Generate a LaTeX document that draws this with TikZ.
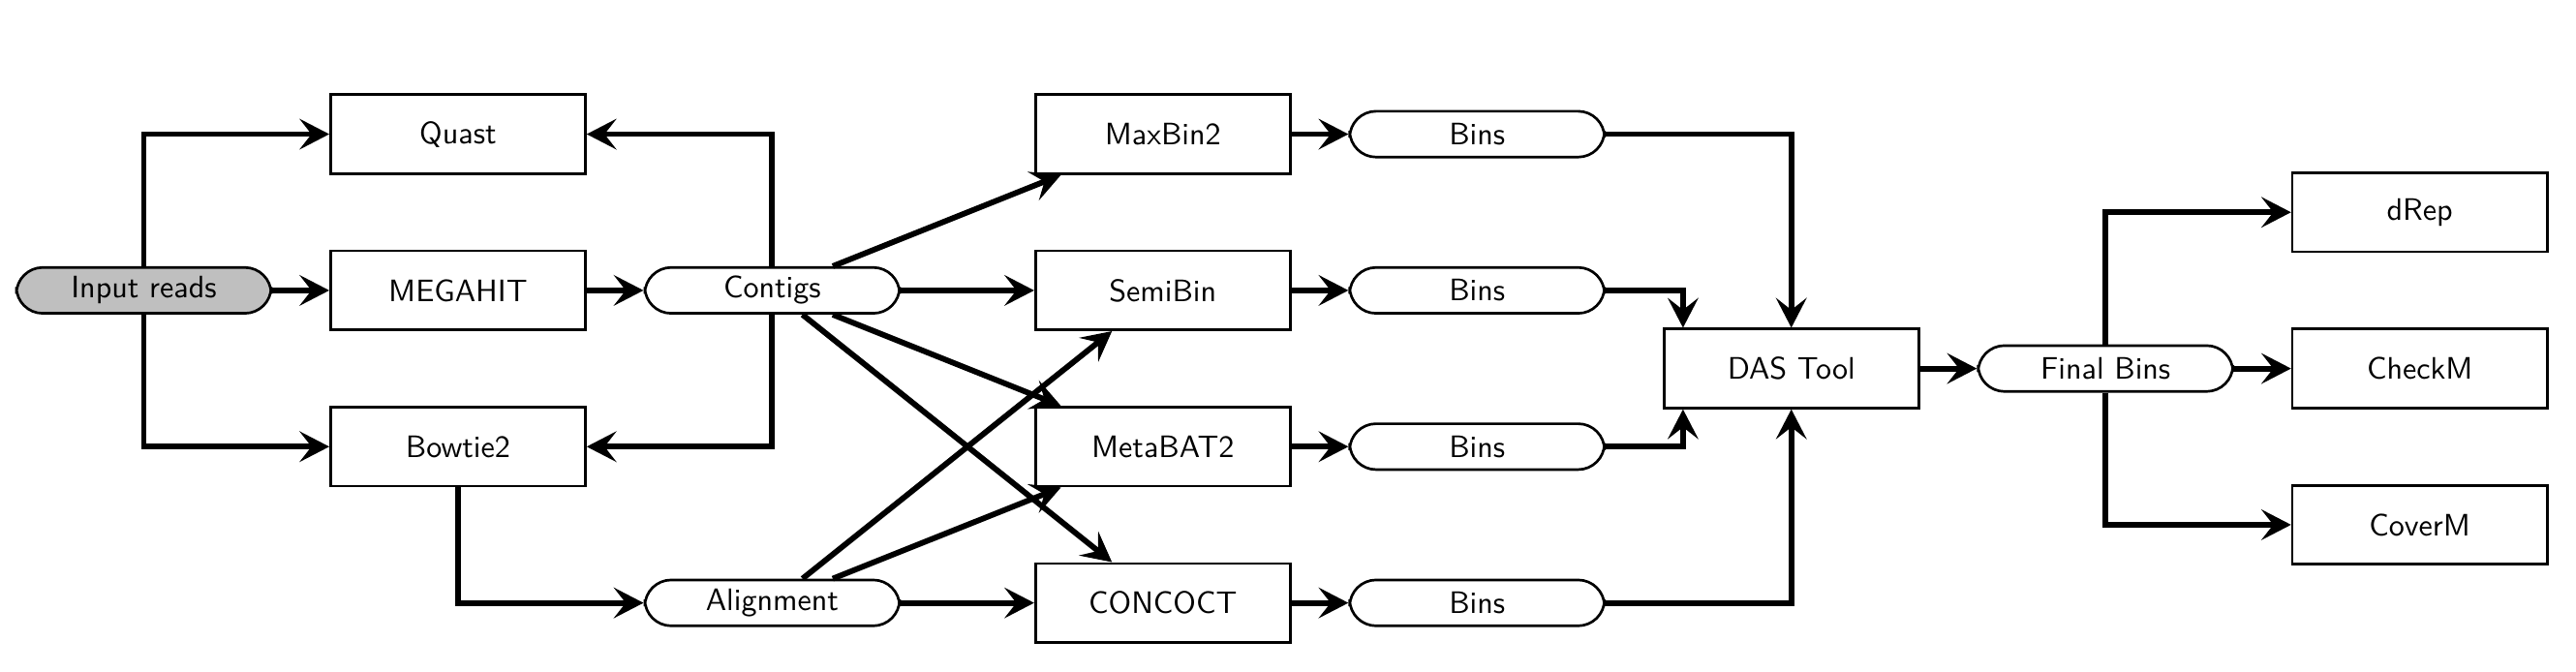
\documentclass[tikz,border=0pt]{standalone}
\usetikzlibrary{arrows.meta}

\begin{document}
\begin{tikzpicture}[every node/.style={font=\sffamily\fontsize{10.4}{12}\selectfont},
    tool/.style={draw, line width=0.87pt, minimum width=3cm, minimum height=0.93cm},
    data/.style={draw, line width=0.87pt, rounded corners=0.31cm, inner sep=1pt, minimum width=3cm, minimum height=0.54cm},
    flow/.style={line width=1.9pt, -{Stealth[length=3.5mm, width=3.6mm, inset=1.4mm]}}]
    \useasboundingbox (-1.693, -4.49) rectangle (28.64, 3.42);

    \node [data, fill=lightgray] (in) at (0, 0) {Input reads};
    \node [tool] (quast) at (3.7, 1.84) {Quast};
    \node [tool] (megahit) at (3.7, 0) {MEGAHIT};
    \node [tool] (bowtie) at (3.7, -1.84) {Bowtie2};
    \node [data] (contigs) at (7.4, 0) {Contigs};
    \node [data] (align) at (7.4, -3.68) {Alignment};

    \node [tool] (maxbin) at (12, 1.84) {MaxBin2};
    \node [tool] (semibin) at (12, 0) {SemiBin};
    \node [tool] (metabat) at (12, -1.84) {MetaBAT2};
    \node [tool] (concoct) at (12, -3.68) {CONCOCT};
    \node [data] (b1) at (15.7, 1.84) {Bins};
    \node [data] (b2) at (15.7, 0) {Bins};
    \node [data] (b3) at (15.7, -1.84) {Bins};
    \node [data] (b4) at (15.7, -3.68) {Bins};

    \node [tool] (das) at (19.4, -0.92) {DAS Tool};
    \node [data] (final) at (23.1, -0.92) {Final Bins};
    \node [tool] (drep) at (26.8, 0.92) {dRep};
    \node [tool] (checkm) at (26.8, -0.92) {CheckM};
    \node [tool] (coverm) at (26.8, -2.76) {CoverM};

    \draw [flow] (in) |- (quast);
    \draw [flow] (in) -- (megahit);
    \draw [flow] (in) |- (bowtie);
    \draw [flow] (megahit) -- (contigs);
    \draw [flow] (contigs) |- (quast);
    \draw [flow] (contigs) |- (bowtie);
    \draw [flow] (bowtie) |- (align);

    \draw [flow] (contigs) -- (maxbin);
    \draw [flow] (contigs) -- (semibin);
    \draw [flow] (contigs) -- (metabat);
    \draw [flow] (contigs) -- (concoct);
    \draw [flow] (align) -- (semibin);
    \draw [flow] (align) -- (metabat);
    \draw [flow] (align) -- (concoct);

    \draw [flow] (maxbin) -- (b1);
    \draw [flow] (semibin) -- (b2);
    \draw [flow] (metabat) -- (b3);
    \draw [flow] (concoct) -- (b4);
    \draw [flow] (b1) -| (das);
    \draw [flow] (b2) -| ([xshift=0.24cm]das.north west);
    \draw [flow] (b3) -| ([xshift=0.24cm]das.south west);
    \draw [flow] (b4) -| (das);

    \draw [flow] (das) -- (final);
    \draw [flow] (final) |- (drep);
    \draw [flow] (final) -- (checkm);
    \draw [flow] (final) |- (coverm);
  \end{tikzpicture}
\end{document}
